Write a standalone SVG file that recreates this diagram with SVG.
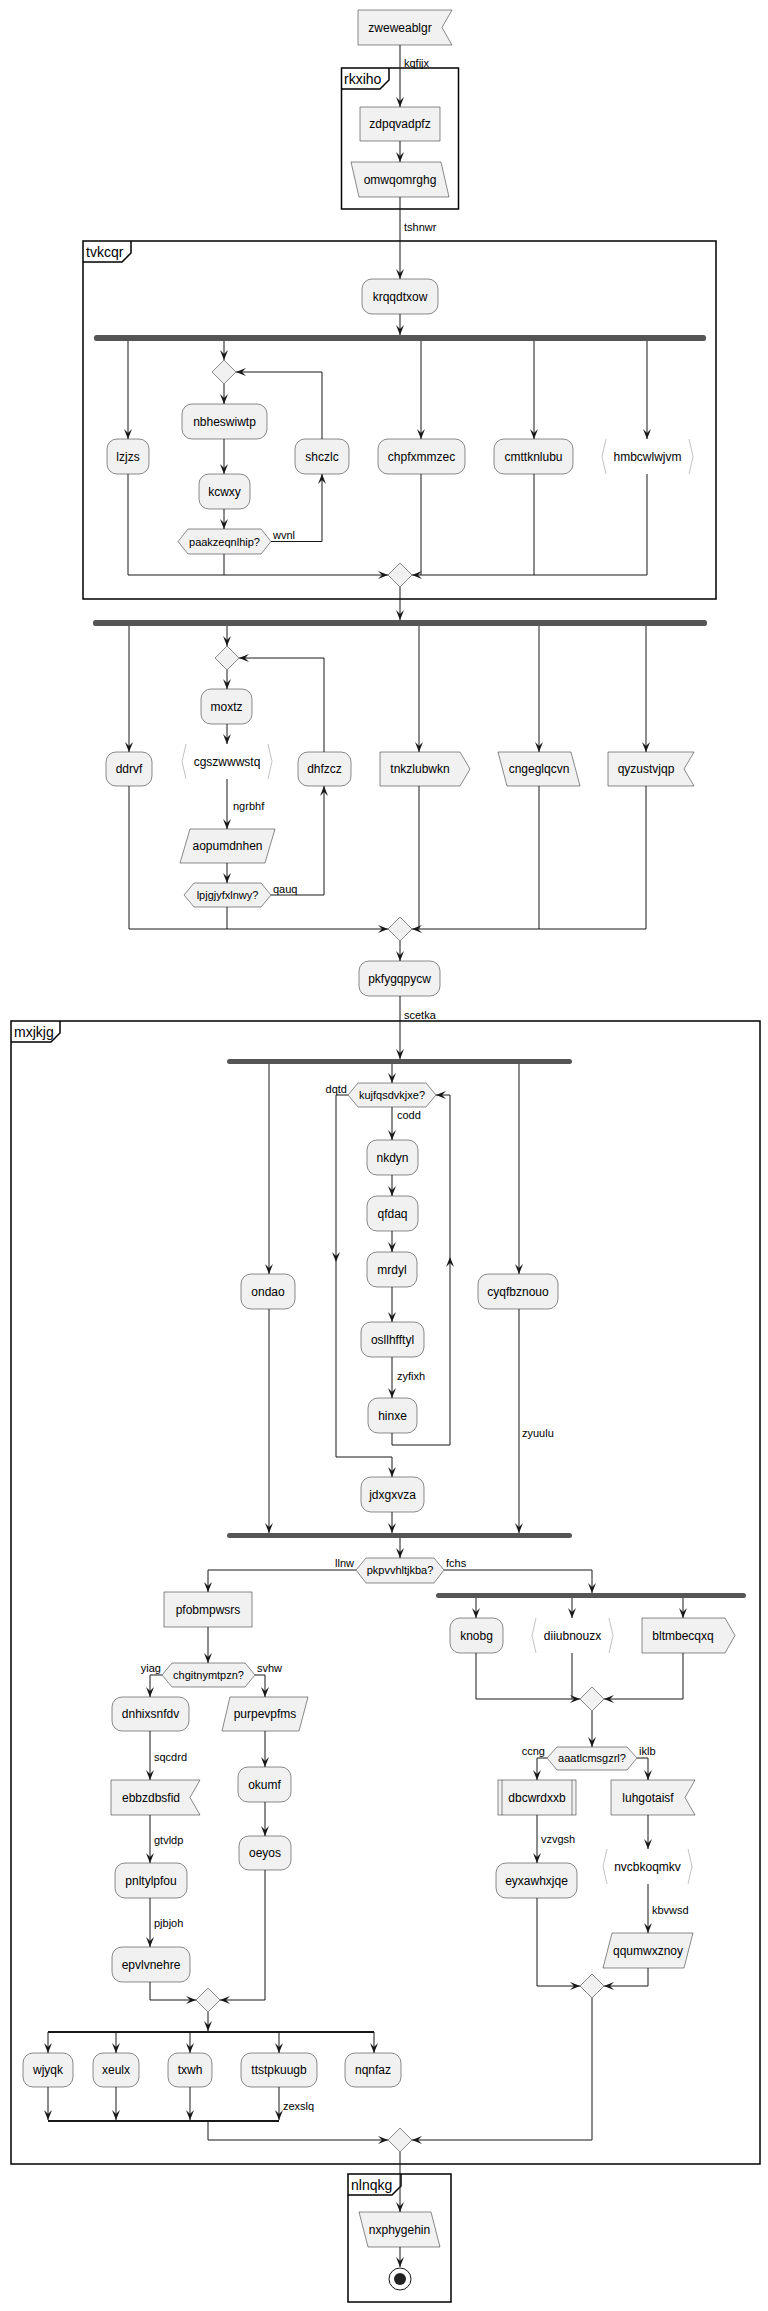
<svg xmlns="http://www.w3.org/2000/svg" width="768" height="2311" viewBox="0 0 768 2311">
<defs>
<style>
.n{fill:#F1F1F1;stroke:#181818;stroke-width:0.5}
.b{fill:none;stroke:#999999;stroke-width:0.6}
.t{font-family:"Liberation Sans",Arial,sans-serif;font-size:12px;fill:#000;text-anchor:middle}
.h{font-family:"Liberation Sans",Arial,sans-serif;font-size:11px;fill:#000;text-anchor:middle}
.l{font-family:"Liberation Sans",Arial,sans-serif;font-size:11px;fill:#000}
.r{text-anchor:end}
.e{fill:none;stroke:#181818;stroke-width:1}
.s{fill:none;stroke:#181818;stroke-width:2}
.bar{fill:#555555}
.fr{fill:none;stroke:#000;stroke-width:1.5}
.ft{font-family:"Liberation Sans",Arial,sans-serif;font-size:14px;fill:#000}
.ah{fill:#181818}
</style>
<marker id="a" viewBox="-11 -5 12 10" refX="0" refY="0" markerWidth="12" markerHeight="10" markerUnits="userSpaceOnUse" orient="auto"><path d="M0,0 L-10,-4 L-6,0 L-10,4 Z" fill="#181818"/></marker>
</defs>
<rect width="768" height="2311" fill="#FFFFFF"/>

<!-- frames -->
<g id="frame-rkxiho">
<rect class="fr" x="341.5" y="68" width="117" height="141"/>
<path class="fr" d="M341.5,89 L380,89 L389,80 L389,68"/>
<text class="ft" x="344" y="84">rkxiho</text>
</g>
<g id="frame-tvkcqr">
<rect class="fr" x="83" y="241" width="633" height="358"/>
<path class="fr" d="M83,262 L122,262 L131,253 L131,241"/>
<text class="ft" x="86" y="257">tvkcqr</text>
</g>
<g id="frame-mxjkjg">
<rect class="fr" x="11" y="1021" width="749" height="1143"/>
<path class="fr" d="M11,1042 L51,1042 L60,1033 L60,1021"/>
<text class="ft" x="14" y="1037">mxjkjg</text>
</g>
<g id="frame-nlnqkg">
<rect class="fr" x="348" y="2174" width="103" height="128"/>
<path class="fr" d="M348,2195 L392,2195 L401,2186 L401,2174"/>
<text class="ft" x="351" y="2190">nlnqkg</text>
</g>

<!-- connectors -->
<g id="connectors">
<path class="e" d="M400,45 L400,107" marker-end="url(#a)"/>
<path class="e" d="M400,141 L400,162" marker-end="url(#a)"/>
<path class="e" d="M400,197 L400,279" marker-end="url(#a)"/>
<path class="e" d="M400,314 L400,335" marker-end="url(#a)"/>
<path class="e" d="M128,341 L128,439" marker-end="url(#a)"/>
<path class="e" d="M224,341 L224,360" marker-end="url(#a)"/>
<path class="e" d="M224,384 L224,404" marker-end="url(#a)"/>
<path class="e" d="M224,439 L224,474" marker-end="url(#a)"/>
<path class="e" d="M224,509 L224,529" marker-end="url(#a)"/>
<path class="e" d="M271,541.5 L322,541.5 L322,474" marker-end="url(#a)"/>
<path class="e" d="M322,439 L322,372 L236,372" marker-end="url(#a)"/>
<path class="e" d="M421,341 L421,439" marker-end="url(#a)"/>
<path class="e" d="M534,341 L534,439" marker-end="url(#a)"/>
<path class="e" d="M647,341 L647,439" marker-end="url(#a)"/>
<path class="e" d="M128,474 L128,575 L388,575" marker-end="url(#a)"/>
<path class="e" d="M224,554 L224,575"/>
<path class="e" d="M647,474 L647,575 L412,575" marker-end="url(#a)"/>
<path class="e" d="M534,474 L534,575"/>
<path class="e" d="M421,474 L421,575"/>
<path class="e" d="M400,587 L400,620" marker-end="url(#a)"/>

<path class="e" d="M129,626 L129,752" marker-end="url(#a)"/>
<path class="e" d="M227,626 L227,646" marker-end="url(#a)"/>
<path class="e" d="M227,670 L227,689" marker-end="url(#a)"/>
<path class="e" d="M227,724 L227,744" marker-end="url(#a)"/>
<path class="e" d="M227,779 L227,829" marker-end="url(#a)"/>
<path class="e" d="M227,863 L227,883" marker-end="url(#a)"/>
<path class="e" d="M271,895 L324,895 L324,786" marker-end="url(#a)"/>
<path class="e" d="M324,752 L324,658 L239,658" marker-end="url(#a)"/>
<path class="e" d="M419,626 L419,752" marker-end="url(#a)"/>
<path class="e" d="M539,626 L539,752" marker-end="url(#a)"/>
<path class="e" d="M646,626 L646,752" marker-end="url(#a)"/>
<path class="e" d="M129,786 L129,929 L388,929" marker-end="url(#a)"/>
<path class="e" d="M227,907 L227,929"/>
<path class="e" d="M646,786 L646,929 L412,929" marker-end="url(#a)"/>
<path class="e" d="M539,786 L539,929"/>
<path class="e" d="M419,786 L419,929"/>
<path class="e" d="M400,941 L400,961" marker-end="url(#a)"/>
<path class="e" d="M400,996 L400,1059" marker-end="url(#a)"/>

<path class="e" d="M269,1064 L269,1274" marker-end="url(#a)"/>
<path class="e" d="M392,1064 L392,1083" marker-end="url(#a)"/>
<path class="e" d="M519,1064 L519,1274" marker-end="url(#a)"/>
<path class="e" d="M392,1107 L392,1140" marker-end="url(#a)"/>
<path class="e" d="M392,1175 L392,1196" marker-end="url(#a)"/>
<path class="e" d="M392,1231 L392,1252" marker-end="url(#a)"/>
<path class="e" d="M392,1287 L392,1322" marker-end="url(#a)"/>
<path class="e" d="M392,1357 L392,1398" marker-end="url(#a)"/>
<path class="e" d="M392,1433 L392,1445 L450,1445 L450,1095 L436,1095" marker-end="url(#a)"/>
<polygon class="ah" points="446,1267 450,1257 454,1267 450,1263"/>
<path class="e" d="M348,1095 L336,1095 L336,1457 L392,1457 L392,1477" marker-end="url(#a)"/>
<polygon class="ah" points="332,1252 336,1262 340,1252 336,1256"/>
<path class="e" d="M269,1309 L269,1533" marker-end="url(#a)"/>
<path class="e" d="M392,1512 L392,1533" marker-end="url(#a)"/>
<path class="e" d="M519,1309 L519,1533" marker-end="url(#a)"/>
<path class="e" d="M400,1538 L400,1558" marker-end="url(#a)"/>
<path class="e" d="M356,1570 L208,1570 L208,1592" marker-end="url(#a)"/>
<path class="e" d="M444,1570 L592,1570 L592,1593" marker-end="url(#a)"/>

<path class="e" d="M208,1627 L208,1663" marker-end="url(#a)"/>
<path class="e" d="M162,1675 L150,1675 L150,1697" marker-end="url(#a)"/>
<path class="e" d="M255,1675 L265,1675 L265,1697" marker-end="url(#a)"/>
<path class="e" d="M150,1731 L150,1780" marker-end="url(#a)"/>
<path class="e" d="M150,1815 L150,1863" marker-end="url(#a)"/>
<path class="e" d="M150,1898 L150,1947" marker-end="url(#a)"/>
<path class="e" d="M265,1731 L265,1767" marker-end="url(#a)"/>
<path class="e" d="M265,1802 L265,1836" marker-end="url(#a)"/>
<path class="e" d="M150,1982 L150,2000 L196,2000" marker-end="url(#a)"/>
<path class="e" d="M265,1870 L265,2000 L220,2000" marker-end="url(#a)"/>
<path class="e" d="M208,2012 L208,2031" marker-end="url(#a)"/>
<path class="s" d="M48,2032 L374,2032"/>
<path class="e" d="M48,2032 L48,2053" marker-end="url(#a)"/>
<path class="e" d="M116,2032 L116,2053" marker-end="url(#a)"/>
<path class="e" d="M190,2032 L190,2053" marker-end="url(#a)"/>
<path class="e" d="M279,2032 L279,2053" marker-end="url(#a)"/>
<path class="e" d="M374,2032 L374,2053" marker-end="url(#a)"/>
<path class="e" d="M48,2087 L48,2120" marker-end="url(#a)"/>
<path class="e" d="M116,2087 L116,2120" marker-end="url(#a)"/>
<path class="e" d="M190,2087 L190,2120" marker-end="url(#a)"/>
<path class="e" d="M279,2087 L279,2120" marker-end="url(#a)"/>
<path class="s" d="M48,2121 L279,2121"/>
<path class="e" d="M208,2121 L208,2140 L388,2140" marker-end="url(#a)"/>

<path class="e" d="M476,1598 L476,1618" marker-end="url(#a)"/>
<path class="e" d="M572,1598 L572,1618" marker-end="url(#a)"/>
<path class="e" d="M683,1598 L683,1618" marker-end="url(#a)"/>
<path class="e" d="M476,1653 L476,1699 L580,1699" marker-end="url(#a)"/>
<path class="e" d="M572,1653 L572,1699"/>
<path class="e" d="M683,1653 L683,1699 L604,1699" marker-end="url(#a)"/>
<path class="e" d="M592,1711 L592,1747" marker-end="url(#a)"/>
<path class="e" d="M547,1758 L537,1758 L537,1780" marker-end="url(#a)"/>
<path class="e" d="M637,1758 L648,1758 L648,1780" marker-end="url(#a)"/>
<path class="e" d="M537,1815 L537,1863" marker-end="url(#a)"/>
<path class="e" d="M648,1815 L648,1849" marker-end="url(#a)"/>
<path class="e" d="M648,1884 L648,1933" marker-end="url(#a)"/>
<path class="e" d="M537,1898 L537,1986 L580,1986" marker-end="url(#a)"/>
<path class="e" d="M648,1968 L648,1986 L604,1986" marker-end="url(#a)"/>
<path class="e" d="M592,1998 L592,2140 L412,2140" marker-end="url(#a)"/>
<path class="e" d="M400,2152 L400,2212" marker-end="url(#a)"/>
<path class="e" d="M400,2247 L400,2267" marker-end="url(#a)"/>

<text class="l" x="404" y="67">kqfijx</text>
<text class="l" x="404" y="231">tshnwr</text>
<text class="l" x="273" y="539">wvnl</text>
<text class="l" x="233" y="810">ngrbhf</text>
<text class="l" x="273" y="893">qauq</text>
<text class="l" x="404" y="1019">scetka</text>
<text class="l r" x="347" y="1093">dqtd</text>
<text class="l" x="397" y="1119">codd</text>
<text class="l" x="397" y="1380">zyfixh</text>
<text class="l" x="522" y="1437">zyuulu</text>
<text class="l r" x="354" y="1567">llnw</text>
<text class="l" x="446" y="1567">fchs</text>
<text class="l r" x="161" y="1672">yiag</text>
<text class="l" x="257" y="1672">svhw</text>
<text class="l" x="154" y="1761">sqcdrd</text>
<text class="l" x="154" y="1844">gtvldp</text>
<text class="l" x="154" y="1927">pjbjoh</text>
<text class="l r" x="545" y="1755">ccng</text>
<text class="l" x="639" y="1755">iklb</text>
<text class="l" x="541" y="1843">vzvgsh</text>
<text class="l" x="652" y="1914">kbvwsd</text>
<text class="l" x="283" y="2110">zexslq</text>
</g>

<!-- nodes -->
<g id="zweweablgr"><path class="n" d="M358,10 L452,10 L442,27.5 L452,45 L358,45 Z"/><text class="t" x="400" y="32">zweweablgr</text></g>
<g id="zdpqvadpfz"><rect class="n" x="360" y="107" width="80" height="34"/><text class="t" x="400" y="128">zdpqvadpfz</text></g>
<g id="omwqomrghg"><path class="n" d="M351,162 L441,162 L449,197 L359,197 Z"/><text class="t" x="400" y="183.5">omwqomrghg</text></g>
<g id="krqqdtxow"><rect class="n" x="362" y="279" width="76" height="35" rx="10"/><text class="t" x="400" y="300.5">krqqdtxow</text></g>
<g id="fork1"><rect class="bar" x="94" y="335" width="612" height="6" rx="2.5"/></g>
<g id="lzjzs"><rect class="n" x="107" y="439" width="42" height="35" rx="10"/><text class="t" x="128" y="460.5">lzjzs</text></g>
<g id="loop1"><path class="n" d="M224,360 L236,372 L224,384 L212,372 Z"/></g>
<g id="nbheswiwtp"><rect class="n" x="182" y="404" width="85" height="35" rx="10"/><text class="t" x="224.5" y="425.5">nbheswiwtp</text></g>
<g id="kcwxy"><rect class="n" x="199" y="474" width="51" height="35" rx="10"/><text class="t" x="224.5" y="495.5">kcwxy</text></g>
<g id="paakzeqnlhip"><path class="n" d="M178,541.5 L188,529 L261,529 L271,541.5 L261,554 L188,554 Z"/><text class="h" x="224.5" y="545.5">paakzeqnlhip?</text></g>
<g id="shczlc"><rect class="n" x="295" y="439" width="54" height="35" rx="10"/><text class="t" x="322" y="460.5">shczlc</text></g>
<g id="chpfxmmzec"><rect class="n" x="378" y="439" width="87" height="35" rx="10"/><text class="t" x="421.5" y="460.5">chpfxmmzec</text></g>
<g id="cmttknlubu"><rect class="n" x="494" y="439" width="79" height="35" rx="10"/><text class="t" x="533.5" y="460.5">cmttknlubu</text></g>
<g id="hmbcwlwjvm"><path class="b" d="M606,439 L602,456.5 L606,474 M689,439 L693,456.5 L689,474"/><text class="t" x="647.5" y="460.5">hmbcwlwjvm</text></g>
<g id="merge1"><path class="n" d="M400,563 L412,575 L400,587 L388,575 Z"/></g>

<g id="fork2"><rect class="bar" x="93" y="620" width="614" height="6" rx="2.5"/></g>
<g id="ddrvf"><rect class="n" x="106" y="752" width="46" height="34" rx="10"/><text class="t" x="129" y="773">ddrvf</text></g>
<g id="loop2"><path class="n" d="M227,646 L239,658 L227,670 L215,658 Z"/></g>
<g id="moxtz"><rect class="n" x="201" y="689" width="51" height="35" rx="10"/><text class="t" x="226.5" y="710.5">moxtz</text></g>
<g id="cgszwwwstq"><path class="b" d="M186,744 L182,761.5 L186,779 M268,744 L272,761.5 L268,779"/><text class="t" x="227" y="765.5">cgszwwwstq</text></g>
<g id="aopumdnhen"><path class="n" d="M190,829 L275,829 L265,863 L180,863 Z"/><text class="t" x="227.5" y="850">aopumdnhen</text></g>
<g id="lpjgjyfxlnwy"><path class="n" d="M184,895 L194,883 L261,883 L271,895 L261,907 L194,907 Z"/><text class="h" x="227.5" y="899">lpjgjyfxlnwy?</text></g>
<g id="dhfzcz"><rect class="n" x="298" y="752" width="53" height="34" rx="10"/><text class="t" x="324.5" y="773">dhfzcz</text></g>
<g id="tnkzlubwkn"><path class="n" d="M380,752 L460,752 L470,769 L460,786 L380,786 Z"/><text class="t" x="420" y="773">tnkzlubwkn</text></g>
<g id="cngeglqcvn"><path class="n" d="M498,752 L571,752 L580,786 L507,786 Z"/><text class="t" x="539" y="773">cngeglqcvn</text></g>
<g id="qyzustvjqp"><path class="n" d="M608,752 L694,752 L684,769 L694,786 L608,786 Z"/><text class="t" x="646" y="773">qyzustvjqp</text></g>
<g id="merge2"><path class="n" d="M400,917 L412,929 L400,941 L388,929 Z"/></g>
<g id="pkfygqpycw"><rect class="n" x="359" y="961" width="81" height="35" rx="10"/><text class="t" x="399.5" y="982.5">pkfygqpycw</text></g>

<g id="fork3"><rect class="bar" x="227" y="1059" width="345" height="5" rx="2.5"/></g>
<g id="ondao"><rect class="n" x="241" y="1274" width="54" height="35" rx="10"/><text class="t" x="268" y="1295.5">ondao</text></g>
<g id="kujfqsdvkjxe"><path class="n" d="M348,1095 L358,1083 L426,1083 L436,1095 L426,1107 L358,1107 Z"/><text class="h" x="392" y="1099">kujfqsdvkjxe?</text></g>
<g id="nkdyn"><rect class="n" x="367" y="1140" width="51" height="35" rx="10"/><text class="t" x="392.5" y="1161.5">nkdyn</text></g>
<g id="qfdaq"><rect class="n" x="367" y="1196" width="51" height="35" rx="10"/><text class="t" x="392.5" y="1217.5">qfdaq</text></g>
<g id="mrdyl"><rect class="n" x="367" y="1252" width="50" height="35" rx="10"/><text class="t" x="392" y="1273.5">mrdyl</text></g>
<g id="osllhfftyl"><rect class="n" x="361" y="1322" width="63" height="35" rx="10"/><text class="t" x="392.5" y="1343.5">osllhfftyl</text></g>
<g id="hinxe"><rect class="n" x="368" y="1398" width="49" height="35" rx="10"/><text class="t" x="392.5" y="1419.5">hinxe</text></g>
<g id="cyqfbznouo"><rect class="n" x="478" y="1274" width="80" height="35" rx="10"/><text class="t" x="518" y="1295.5">cyqfbznouo</text></g>
<g id="jdxgxvza"><rect class="n" x="361" y="1477" width="63" height="35" rx="10"/><text class="t" x="392.5" y="1498.5">jdxgxvza</text></g>
<g id="join3"><rect class="bar" x="227" y="1533" width="345" height="5" rx="2.5"/></g>
<g id="pkpvvhltjkba"><path class="n" d="M356,1570 L366,1558 L434,1558 L444,1570 L434,1583 L366,1583 Z"/><text class="h" x="400" y="1574">pkpvvhltjkba?</text></g>

<g id="pfobmpwsrs"><rect class="n" x="164" y="1592" width="88" height="35"/><text class="t" x="208" y="1613.5">pfobmpwsrs</text></g>
<g id="chgitnymtpzn"><path class="n" d="M162,1675 L172,1663 L245,1663 L255,1675 L245,1687 L172,1687 Z"/><text class="h" x="208.5" y="1679">chgitnymtpzn?</text></g>
<g id="dnhixsnfdv"><rect class="n" x="112" y="1697" width="77" height="34" rx="10"/><text class="t" x="150.5" y="1718">dnhixsnfdv</text></g>
<g id="ebbzdbsfid"><path class="n" d="M111,1780 L200,1780 L190,1797.5 L200,1815 L111,1815 Z"/><text class="t" x="151" y="1801.5">ebbzdbsfid</text></g>
<g id="pnltylpfou"><rect class="n" x="115" y="1863" width="72" height="35" rx="10"/><text class="t" x="151" y="1884.5">pnltylpfou</text></g>
<g id="epvlvnehre"><rect class="n" x="112" y="1947" width="78" height="35" rx="10"/><text class="t" x="151" y="1968.5">epvlvnehre</text></g>
<g id="purpevpfms"><path class="n" d="M230,1697 L308,1697 L299,1731 L222,1731 Z"/><text class="t" x="265" y="1718">purpevpfms</text></g>
<g id="okumf"><rect class="n" x="238" y="1767" width="53" height="35" rx="10"/><text class="t" x="264.5" y="1788.5">okumf</text></g>
<g id="oeyos"><rect class="n" x="239" y="1836" width="52" height="34" rx="10"/><text class="t" x="265" y="1857">oeyos</text></g>
<g id="merge4"><path class="n" d="M208,1988 L220,2000 L208,2012 L196,2000 Z"/></g>
<g id="wjyqk"><rect class="n" x="23" y="2053" width="50" height="34" rx="10"/><text class="t" x="48" y="2074">wjyqk</text></g>
<g id="xeulx"><rect class="n" x="93" y="2053" width="46" height="34" rx="10"/><text class="t" x="116" y="2074">xeulx</text></g>
<g id="txwh"><rect class="n" x="168" y="2053" width="44" height="34" rx="10"/><text class="t" x="190" y="2074">txwh</text></g>
<g id="ttstpkuugb"><rect class="n" x="241" y="2053" width="76" height="34" rx="10"/><text class="t" x="279" y="2074">ttstpkuugb</text></g>
<g id="nqnfaz"><rect class="n" x="345" y="2053" width="56" height="34" rx="10"/><text class="t" x="373" y="2074">nqnfaz</text></g>

<g id="fork4"><rect class="bar" x="436" y="1593" width="310" height="5" rx="2.5"/></g>
<g id="knobg"><rect class="n" x="450" y="1618" width="53" height="35" rx="10"/><text class="t" x="476.5" y="1639.5">knobg</text></g>
<g id="diiubnouzx"><path class="b" d="M536,1618 L532,1635.5 L536,1653 M609,1618 L613,1635.5 L609,1653"/><text class="t" x="572.5" y="1639.5">diiubnouzx</text></g>
<g id="bltmbecqxq"><path class="n" d="M642,1618 L725,1618 L735,1635.5 L725,1653 L642,1653 Z"/><text class="t" x="683" y="1639.5">bltmbecqxq</text></g>
<g id="merge5"><path class="n" d="M592,1687 L604,1699 L592,1711 L580,1699 Z"/></g>
<g id="aaatlcmsgzrl"><path class="n" d="M547,1758 L557,1747 L627,1747 L637,1758 L627,1770 L557,1770 Z"/><text class="h" x="592" y="1762">aaatlcmsgzrl?</text></g>
<g id="dbcwrdxxb"><rect class="n" x="498" y="1780" width="78" height="35"/><path class="n" d="M502,1780 L502,1815 M572,1780 L572,1815"/><text class="t" x="537" y="1801.5">dbcwrdxxb</text></g>
<g id="eyxawhxjqe"><rect class="n" x="496" y="1863" width="81" height="35" rx="10"/><text class="t" x="536.5" y="1884.5">eyxawhxjqe</text></g>
<g id="luhgotaisf"><path class="n" d="M611,1780 L695,1780 L685,1797.5 L695,1815 L611,1815 Z"/><text class="t" x="648" y="1801.5">luhgotaisf</text></g>
<g id="nvcbkoqmkv"><path class="b" d="M607,1849 L603,1866.5 L607,1884 M688,1849 L692,1866.5 L688,1884"/><text class="t" x="647.5" y="1870.5">nvcbkoqmkv</text></g>
<g id="qqumwxznoy"><path class="n" d="M612,1933 L693,1933 L684,1968 L603,1968 Z"/><text class="t" x="648" y="1954.5">qqumwxznoy</text></g>
<g id="merge6"><path class="n" d="M592,1974 L604,1986 L592,1998 L580,1986 Z"/></g>

<g id="merge7"><path class="n" d="M400,2128 L412,2140 L400,2152 L388,2140 Z"/></g>
<g id="nxphygehin"><path class="n" d="M359,2212 L431,2212 L440,2247 L368,2247 Z"/><text class="t" x="399.5" y="2233.5">nxphygehin</text></g>
<g id="end"><circle cx="400" cy="2279" r="11" fill="none" stroke="#181818" stroke-width="1"/><circle cx="400" cy="2279" r="6" fill="#222222"/></g>
</svg>
